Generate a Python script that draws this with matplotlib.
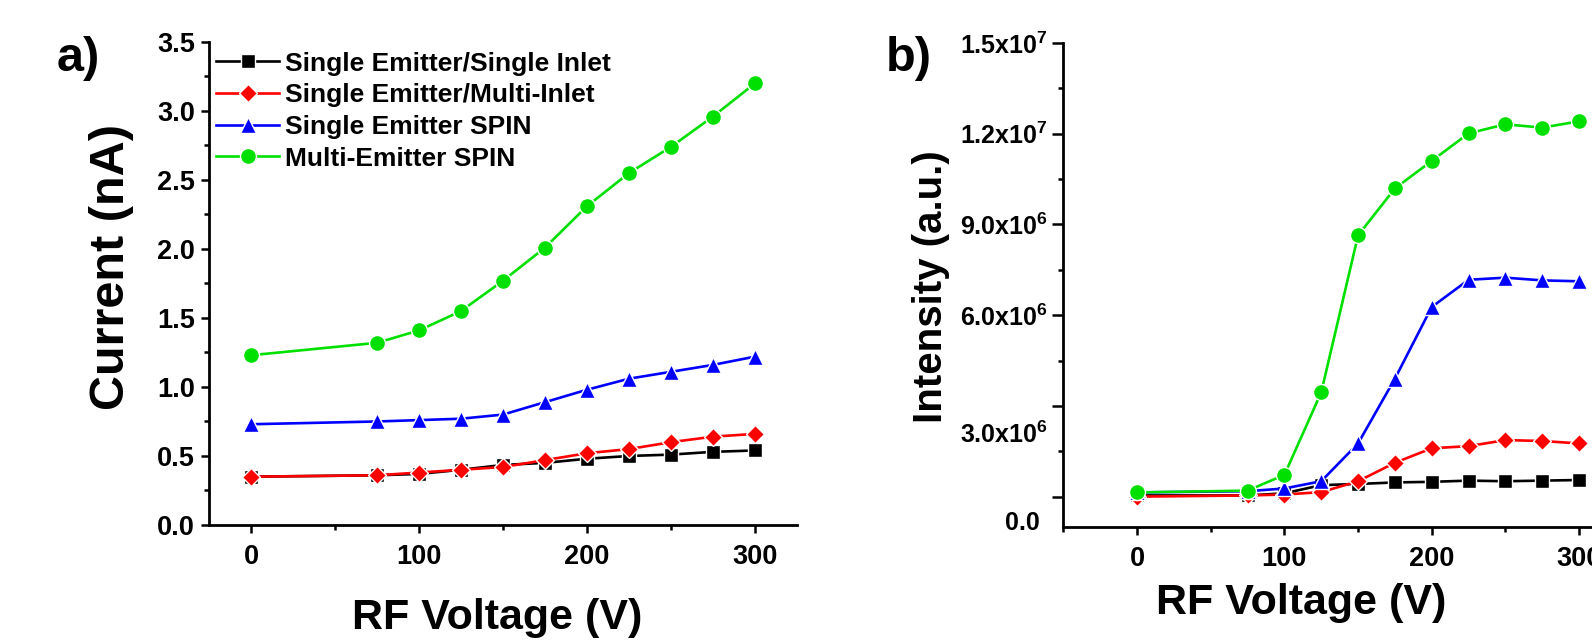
import numpy as np
import matplotlib
matplotlib.use("Agg")
import matplotlib.pyplot as plt
from matplotlib.ticker import MultipleLocator, FixedLocator, FixedFormatter, FormatStrFormatter
from matplotlib.transforms import ScaledTranslation

plt.rcParams["font.family"] = ["Liberation Sans", "DejaVu Sans"]
plt.rcParams["font.weight"] = "bold"
plt.rcParams["mathtext.fontset"] = "custom"
plt.rcParams["mathtext.rm"] = "Liberation Sans:bold"
plt.rcParams["mathtext.bf"] = "Liberation Sans:bold"
plt.rcParams["mathtext.default"] = "rm"

# ── data ──────────────────────────────────────────────────────────────────────
volts = [0, 75, 100, 125, 150, 175, 200, 225, 250, 275, 300]

series_labels = ["Single Emitter/Single Inlet", "Single Emitter/Multi-Inlet",
                 "Single Emitter SPIN", "Multi-Emitter SPIN"]

# panel a: current (nA)
cur_single_single = [0.35, 0.36, 0.37, 0.40, 0.435, 0.45, 0.48, 0.50, 0.51, 0.53, 0.54]
cur_single_multi  = [0.35, 0.36, 0.38, 0.40, 0.42, 0.47, 0.52, 0.55, 0.60, 0.64, 0.66]
cur_single_spin   = [0.73, 0.75, 0.76, 0.77, 0.80, 0.89, 0.98, 1.06, 1.11, 1.16, 1.22]
cur_multi_spin    = [1.23, 1.32, 1.41, 1.55, 1.77, 2.01, 2.31, 2.55, 2.74, 2.96, 3.20]

# panel b: intensity (x1e6 a.u.)
int_single_single = [0.04, 0.04, 0.11, 0.38, 0.42, 0.47, 0.49, 0.53, 0.51, 0.53, 0.55]
int_single_multi  = [0.00, 0.04, 0.07, 0.15, 0.51, 1.12, 1.60, 1.67, 1.87, 1.84, 1.76]
int_single_spin   = [0.14, 0.18, 0.27, 0.51, 1.76, 3.90, 6.27, 7.17, 7.24, 7.15, 7.12]
int_multi_spin    = [0.14, 0.20, 0.72, 3.45, 8.64, 10.19, 11.10, 12.01, 12.31, 12.20, 12.41]

int_ticks = [0, 3e6, 6e6, 9e6, 1.2e7, 1.5e7]
int_tick_labels = ["0.0", r"3.0x10$^{6}$", r"6.0x10$^{6}$", r"9.0x10$^{6}$",
                   r"1.2x10$^{7}$", r"1.5x10$^{7}$"]

# ── style ─────────────────────────────────────────────────────────────────────
STYLES = [
    dict(color="#000000", marker="s", ms=9.5),
    dict(color="#FF0000", marker="D", ms=9.5),
    dict(color="#0000FF", marker="^", ms=12),
    dict(color="#00E000", marker="o", ms=11.5),
]
LW = 1.9
TICK_FS = 19.5


def style_axes(ax):
    for side in ("top", "right"):
        ax.spines[side].set_visible(False)
    for side in ("left", "bottom"):
        ax.spines[side].set_linewidth(2.0)
    ax.tick_params(which="major", direction="out", length=6, width=1.8,
                   labelsize=TICK_FS)
    ax.tick_params(which="minor", direction="out", length=3.5, width=1.8)
    ax.tick_params(axis="x", which="major", pad=8)
    ax.tick_params(axis="y", which="major", pad=4)
    for lab in ax.get_xticklabels() + ax.get_yticklabels():
        lab.set_fontweight("bold")


def draw(ax, ys, scale=1.0):
    for y, st, lab in zip(ys, STYLES, series_labels):
        ax.plot(volts, np.asarray(y) * scale, color=st["color"], lw=LW,
                marker=st["marker"], ms=st["ms"], mfc=st["color"],
                mec="white", mew=1.0, label=lab)


fig = plt.figure(figsize=(15.92, 6.41), dpi=100)

# ── panel a ───────────────────────────────────────────────────────────────────
ax1 = fig.add_axes([0.1313, 0.181, 0.3693, 0.7535])
draw(ax1, [cur_single_single, cur_single_multi, cur_single_spin, cur_multi_spin])
ax1.set_xlim(-25, 325)
ax1.set_ylim(0, 3.5)
ax1.xaxis.set_major_locator(MultipleLocator(100))
ax1.xaxis.set_minor_locator(MultipleLocator(50))
ax1.yaxis.set_major_locator(MultipleLocator(0.5))
ax1.yaxis.set_minor_locator(MultipleLocator(0.25))
ax1.yaxis.set_major_formatter(FormatStrFormatter("%.1f"))
style_axes(ax1)
ax1.set_xlabel("RF Voltage (V)", fontsize=31, fontweight="bold")
ax1.xaxis.set_label_coords(0.49, -0.152)
ax1.set_ylabel("Current (nA)", fontsize=35, fontweight="bold")
ax1.yaxis.set_label_coords(-0.128, 0.534)
ax1.legend(loc="upper left", bbox_to_anchor=(0.012, 0.98), frameon=False,
           handlelength=2.4, handletextpad=0.2, labelspacing=0.29,
           borderpad=0, borderaxespad=0, prop={"weight": "bold", "size": 19})

# ── panel b ───────────────────────────────────────────────────────────────────
ax2 = fig.add_axes([0.668, 0.178, 0.347, 0.755])
draw(ax2, [int_single_single, int_single_multi, int_single_spin, int_multi_spin], 1e6)
ax2.set_xlim(-50, 325)
ax2.set_ylim(-1e6, 1.5e7)
ax2.xaxis.set_major_locator(MultipleLocator(100))
ax2.xaxis.set_minor_locator(MultipleLocator(50))
ax2.yaxis.set_major_locator(FixedLocator(int_ticks))
ax2.yaxis.set_major_formatter(FixedFormatter(int_tick_labels))
ax2.yaxis.set_minor_locator(FixedLocator(np.arange(1.5e6, 1.5e7, 3e6)))
style_axes(ax2)
ax2.tick_params(axis="y", which="major", length=8, pad=3, labelsize=18)
ax2.set_xlabel("RF Voltage (V)", fontsize=31, fontweight="bold")
ax2.xaxis.set_label_coords(0.43, -0.115)
ax2.set_ylabel("Intensity (a.u.)", fontsize=29, fontweight="bold")
ax2.yaxis.set_label_coords(-0.205, 0.496)

# the two lowest labels sit below their ticks in the original
fig.canvas.draw()
offsets = {"0.0": (-8, -24), r"3.0x10$^{6}$": (0, -26)}
for lab in ax2.get_yticklabels():
    if lab.get_text() in offsets:
        dx, dy = offsets[lab.get_text()]
        lab.set_transform(lab.get_transform() +
                          ScaledTranslation(dx / 100, dy / 100, fig.dpi_scale_trans))

fig.text(0.049, 0.909, "a)", fontsize=35, fontweight="bold", va="center", ha="center")
fig.text(0.571, 0.909, "b)", fontsize=35, fontweight="bold", va="center", ha="center")

fig.savefig("out.png", dpi=100)
